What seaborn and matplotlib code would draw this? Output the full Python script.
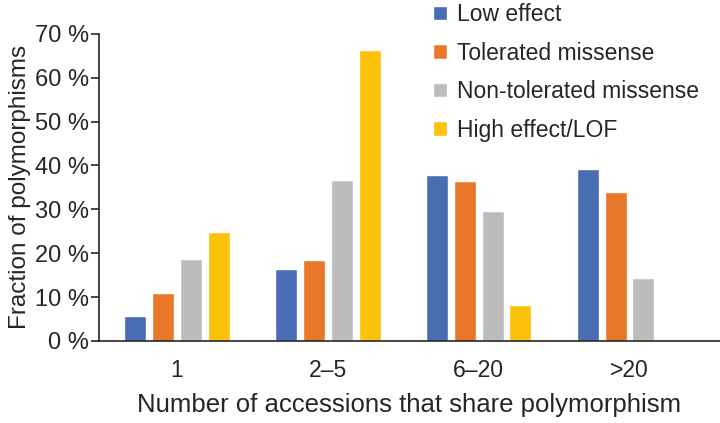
import pandas as pd
import matplotlib.pyplot as plt
import seaborn as sns

# Data (percent of polymorphisms)
groups = ['1', '2–5', '6–20', '>20']
effects = ['Low effect', 'Tolerated missense', 'Non-tolerated missense', 'High effect/LOF']
low_effect = [5.7, 16.5, 37.9, 39.3]
tolerated = [10.9, 18.4, 36.4, 33.9]
non_tolerated = [18.7, 36.7, 29.6, 14.4]
high_effect = [24.9, 66.4, 8.3, 0.0]
colors = ['#4a6cb3', '#e8772a', '#bcbcbc', '#fcc10a']
yticks = [0, 10, 20, 30, 40, 50, 60, 70]

rows = []
for eff, vals in zip(effects, [low_effect, tolerated, non_tolerated, high_effect]):
    for g, v in zip(groups, vals):
        rows.append({'group': g, 'effect': eff, 'value': v})
df = pd.DataFrame(rows)

sns.set_style('ticks')
plt.rcParams['font.family'] = ['Liberation Sans', 'DejaVu Sans']

fig = plt.figure(figsize=(7.2, 4.23), dpi=100)
ax = fig.add_axes([0.137, 0.194, 0.863, 0.726])

sns.barplot(data=df, x='group', y='value', hue='effect', order=groups,
            hue_order=effects, palette=colors, width=0.737, gap=0.21,
            saturation=1, ax=ax)

ax.set_xlim(-0.52, 3.6)
ax.set_ylim(0, 70)
ax.set_yticks(yticks)
ax.set_yticklabels([f'{t} %' for t in yticks])
ax.tick_params(axis='x', length=0, labelsize=16.5, pad=13)
ax.tick_params(axis='y', length=6, width=1.2, labelsize=17, pad=1)
ax.set_xlabel('Number of accessions that share polymorphism', fontsize=18.5, labelpad=8)
ax.set_ylabel('Fraction of polymorphisms', fontsize=17.5, labelpad=3)
for s in ['top', 'right']:
    ax.spines[s].set_visible(False)
ax.spines['left'].set_linewidth(1.2)
ax.spines['bottom'].set_linewidth(1.2)

ax.legend(loc='upper left', bbox_to_anchor=(433 / 720, 1 - 3 / 423),
          bbox_transform=fig.transFigure, frameon=False, fontsize=16.5,
          handlelength=0.6, handleheight=0.6, handletextpad=0.45,
          labelspacing=0.68, borderpad=0, borderaxespad=0)

fig.savefig('out.png', dpi=100)
